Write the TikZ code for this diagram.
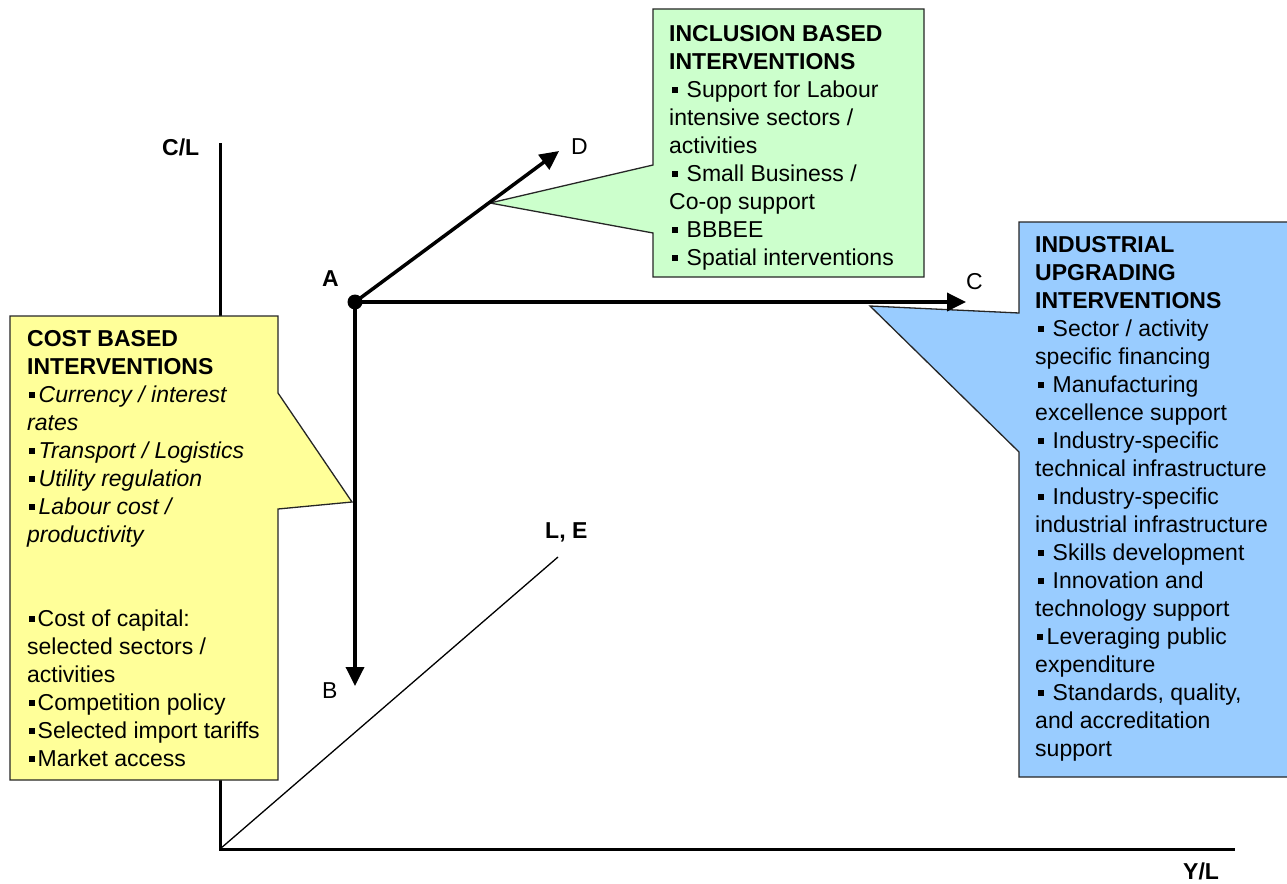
\documentclass[tikz,border=0pt]{standalone}
\usepackage{fontspec}
\setmainfont{Liberation Sans}
\usetikzlibrary{arrows.meta}
\definecolor{cyellow}{HTML}{FFFF99}
\definecolor{cgreen}{HTML}{CCFFCC}
\definecolor{cblue}{HTML}{99CCFF}
\newcommand\bsq{\raisebox{5pt}{\rule{5.5pt}{5.5pt}}}
\begin{document}
\begin{tikzpicture}[x=1pt,y=-1pt,
  axis/.style={line width=3pt},
  arr/.style={line width=3.5pt,-{Triangle[length=19pt,width=18pt]}},
  callout/.style={draw=black!85,line width=1.3pt,line join=miter},
  boxtext/.style={anchor=north west,inner sep=0pt,align=left,font=\fontsize{23}{28}\selectfont},
  lbl/.style={anchor=base west,inner sep=0pt,font=\fontsize{23}{28}\selectfont}]
\useasboundingbox (0,0) rectangle (1287,883);
\clip (0,0) rectangle (1287,883);
% axes
\coordinate (O) at (220,849);
\coordinate (Ytop) at (220,143);
\coordinate (Xend) at (1235,849);
\coordinate (Zend) at (558,557);
\draw[axis] (Ytop) -- (O) -- (Xend);
\draw[line width=1.3pt] (O) -- (Zend);
% callouts
\path[callout,fill=cyellow] (10,316) -- (278,316) -- (278,393) -- (352,502) -- (278,509) -- (278,780) -- (10,780) -- cycle;
\path[callout,fill=cgreen] (653,9) -- (924,9) -- (924,277) -- (653,277) -- (653,233) -- (490,203) -- (653,165) -- cycle;
\path[callout,fill=cblue] (1019,222) -- (1300,222) -- (1300,777) -- (1019,777) -- (1019,452) -- (870,306) -- (1019,313) -- cycle;
% texts
\node[boxtext] (tcost) at (27,330.5) {\textbf{COST BASED}\\
\textbf{INTERVENTIONS}\\
\hspace*{2pt}\bsq\hspace{4pt}\textit{Currency / interest}\\
\textit{rates}\\
\hspace*{2pt}\bsq\hspace{4pt}\textit{Transport / Logistics}\\
\hspace*{2pt}\bsq\hspace{4pt}\textit{Utility regulation}\\
\hspace*{2pt}\bsq\hspace{4pt}\textit{Labour cost /}\\
\textit{productivity}\\[56pt]
\hspace*{2pt}\bsq\hspace{3pt}Cost of capital:\\
selected sectors /\\
activities\\
\hspace*{2pt}\bsq\hspace{3pt}Competition policy\\
\hspace*{2pt}\bsq\hspace{3pt}Selected import tariffs\\
\hspace*{2pt}\bsq\hspace{3pt}Market access};
\node[boxtext] (tincl) at (669,25.5) {\textbf{INCLUSION BASED}\\
\textbf{INTERVENTIONS}\\
\hspace*{3pt}\bsq\hspace{9pt}Support for Labour\\
intensive sectors /\\
activities\\
\hspace*{3pt}\bsq\hspace{9pt}Small Business /\\
Co-op support\\
\hspace*{3pt}\bsq\hspace{9pt}BBBEE\\
\hspace*{3pt}\bsq\hspace{9pt}Spatial interventions};
\node[boxtext] (tind) at (1035,236.5) {\textbf{INDUSTRIAL}\\
\textbf{UPGRADING}\\
\textbf{INTERVENTIONS}\\
\hspace*{3pt}\bsq\hspace{9pt}Sector / activity\\
specific financing\\
\hspace*{3pt}\bsq\hspace{9pt}Manufacturing\\
excellence support\\
\hspace*{3pt}\bsq\hspace{9pt}Industry-specific\\
technical infrastructure\\
\hspace*{3pt}\bsq\hspace{9pt}Industry-specific\\
industrial infrastructure\\
\hspace*{3pt}\bsq\hspace{9pt}Skills development\\
\hspace*{3pt}\bsq\hspace{9pt}Innovation and\\
technology support\\
\hspace*{2pt}\bsq\hspace{4pt}Leveraging public\\
expenditure\\
\hspace*{3pt}\bsq\hspace{9pt}Standards, quality,\\
and accreditation\\
support};
% arrows
\coordinate (A) at (355,302);
\coordinate (D) at (559,151);
\coordinate (C) at (966,302);
\coordinate (B) at (355,686);
\draw[arr] (A) -- (D);
\draw[arr] (A) -- (C);
\draw[arr] (A) -- (B);
\fill (A) circle (7.5pt);
% labels
\node[lbl] (lCL) at (162,155) {\textbf{C/L}};
\node[lbl] (lYL) at (1183,879) {\textbf{Y/L}};
\node[lbl] (lLE) at (545,538) {\textbf{L, E}};
\node[lbl] (lA) at (322,286) {\textbf{A}};
\node[lbl] (lD) at (571,154) {D};
\node[lbl] (lC) at (966,289) {C};
\node[lbl] (lB) at (322,698) {B};
\end{tikzpicture}
\end{document}
